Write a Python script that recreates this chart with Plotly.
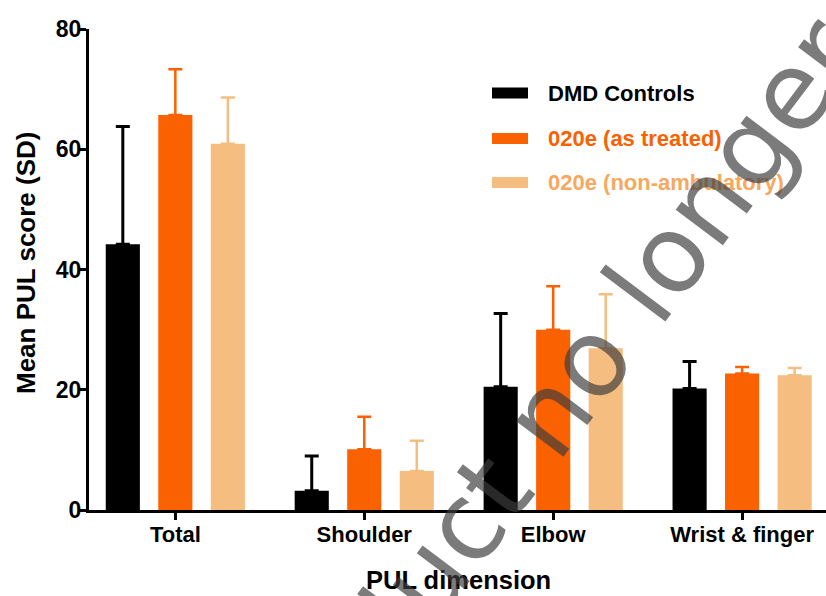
import plotly.graph_objects as go

categories = ["Total", "Shoulder", "Elbow", "Wrist & finger"]
series_names = ["DMD Controls", "020e (as treated)", "020e (non-ambulatory)"]
dmd_mean = [44.2, 3.2, 20.5, 20.2]
dmd_sd = [19.6, 5.8, 12.2, 4.5]
treated_mean = [65.7, 10.1, 30.0, 22.7]
treated_sd = [7.6, 5.4, 7.2, 1.1]
nonamb_mean = [60.9, 6.5, 26.9, 22.4]
nonamb_sd = [7.7, 5.0, 9.0, 1.2]
y_ticks = [0, 20, 40, 60, 80]
x_title = "PUL dimension"
y_title = "Mean PUL score (SD)"

bar_colors = ["#000000", "#FA6100", "#F6BD80"]
text_colors = ["#000000", "#FA6100", "#F7A85E"]
means = [dmd_mean, treated_mean, nonamb_mean]
sds = [dmd_sd, treated_sd, nonamb_sd]
err_thick = [3, 2.5, 2.5]

W, H = 826, 596
ML, MR, MT, MB = 89, 0, 29, 86
PW, PH = W - ML - MR, H - MT - MB

def px2paper(x, y):
    return (x - ML) / PW, (H - MB - y) / PH

fig = go.Figure()
for name, m, s, c, t in zip(series_names, means, sds, bar_colors, err_thick):
    fig.add_trace(go.Bar(
        x=categories, y=m, name=name, marker=dict(color=c, line=dict(width=0)),
        error_y=dict(type="data", symmetric=False, array=s, arrayminus=[0] * len(s),
                     color=c, thickness=t, width=7),
        showlegend=False,
    ))

font_family = "Liberation Sans, Arial, sans-serif"

shapes = []
annotations = []
legend_y = [93, 138.5, 182.5]
for name, c, tc, ly in zip(series_names, bar_colors, text_colors, legend_y):
    x0, y0 = px2paper(492, ly - 5.5)
    x1, y1 = px2paper(528, ly + 5.5)
    shapes.append(dict(type="rect", xref="paper", yref="paper", x0=x0, x1=x1, y0=y1, y1=y0,
                       fillcolor=c, line=dict(width=0)))
    tx, ty = px2paper(546, ly)
    annotations.append(dict(xref="paper", yref="paper", x=tx, y=ty, xanchor="left", yanchor="middle",
                            text="<b>" + name + "</b>", showarrow=False,
                            font=dict(family=font_family, size=22, color=tc)))

# axis titles
xt, yt = px2paper(458, 580)
annotations.append(dict(xref="paper", yref="paper", x=xt, y=yt, xanchor="center", yanchor="middle",
                        text="<b>" + x_title + "</b>", showarrow=False,
                        font=dict(family=font_family, size=25.5, color="black")))
xt, yt = px2paper(26, 263)
annotations.append(dict(xref="paper", yref="paper", x=xt, y=yt, xanchor="center", yanchor="middle",
                        text="<b>" + y_title + "</b>", showarrow=False, textangle=-90,
                        font=dict(family=font_family, size=26, color="black")))

# watermark
wx, wy = px2paper(548, 414)
annotations.append(dict(xref="paper", yref="paper", x=wx, y=wy, xanchor="center", yanchor="middle",
                        text="Product no longer", textangle=-53, showarrow=False,
                        font=dict(family="DejaVu Sans, sans-serif", size=108, color="rgba(60,60,60,0.68)")))

fig.update_layout(
    width=W, height=H,
    margin=dict(l=ML, r=MR, t=MT, b=MB, pad=0),
    paper_bgcolor="white", plot_bgcolor="white",
    barmode="group", bargap=0.166, bargroupgap=0.35,
    shapes=shapes, annotations=annotations,
    font=dict(family=font_family, color="black"),
)
fig.update_xaxes(
    range=[-0.457, 3.444], showline=True, linecolor="black", linewidth=3,
    ticks="outside", ticklen=7, tickwidth=3, tickcolor="black",
    tickfont=dict(size=22, family=font_family, weight="bold"), ticklabelstandoff=-4,
    showgrid=False, zeroline=False, automargin=False,
)
fig.update_yaxes(
    range=[0, 80], tickvals=y_ticks, showline=True, linecolor="black", linewidth=3,
    ticks="outside", ticklen=8, tickwidth=3, tickcolor="black",
    tickfont=dict(size=23, family=font_family, weight="bold"), ticklabelstandoff=-8,
    showgrid=False, zeroline=False, automargin=False,
)

fig.write_html("out.html", config={"displayModeBar": False},
               post_script="document.body.style.margin='0';document.body.style.overflow='hidden';")
